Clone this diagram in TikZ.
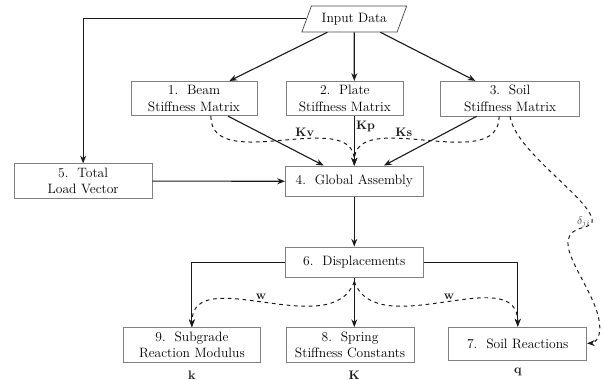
\documentclass[tikz,border=0pt]{standalone}
\usepackage{xcolor}
\usetikzlibrary{arrows.meta,positioning,shapes.geometric}
\definecolor{boxgray}{HTML}{808080}
\definecolor{linedark}{HTML}{1A1A1A}

\begin{document}
\begin{tikzpicture}[
  >={Stealth[length=2.2mm,width=1.7mm]},
  line width=0.9pt,
  stage/.style={rectangle, draw=boxgray, line width=0.6pt, minimum width=3.93cm, minimum height=0.88cm, align=center, font=\fontsize{11pt}{13.5pt}\selectfont},
  datain/.style={trapezium, trapezium left angle=68, trapezium right angle=112, trapezium stretches=true, draw=black!70, line width=0.6pt, minimum width=3.0cm, minimum height=0.74cm, font=\fontsize{11pt}{13.5pt}\selectfont},
  flow/.style={->, draw=linedark, line width=0.9pt},
  link/.style={->, dashed, draw=linedark, line width=0.8pt},
  lbl/.style={inner sep=1pt, text=linedark}
]
  \useasboundingbox (0,0) rectangle (17.19,-10.83);

  % top row
  \node[datain] (input) at (10.10,-0.54) {Input Data};
  \node[stage, minimum width=3.59cm] (beam) at (5.53,-2.81) {1.~~Beam\\Stiffness Matrix};
  \node[stage, minimum width=3.36cm] (plate) at (9.83,-2.81) {2.~~Plate\\Stiffness Matrix};
  \node[stage, minimum width=3.96cm] (soil) at (14.54,-2.81) {3.~~Soil\\Stiffness Matrix};

  % assembly
  \node[stage] (load) at (2.37,-5.16) {5.~~Total\\Load Vector};
  \node[stage] (glob) at (10.10,-5.17) {4.~~Global Assembly};
  \node[stage] (disp) at (10.10,-7.48) {6.~~Displacements};

  % results
  \node[stage] (subg) at (5.47,-9.83) {9.~~Subgrade\\Reaction Modulus};
  \node[stage, minimum width=3.65cm] (spring) at (9.98,-9.83) {8.~~Spring\\Stiffness Constants};
  \node[stage, minimum height=0.94cm] (reac) at (14.76,-9.79) {7.~~Soil Reactions};

  \node[lbl] (kk) at (5.47,-10.69) {$\mathbf{k}$};
  \node[lbl] (bigk) at (10.10,-10.69) {$\mathbf{K}$};
  \node[lbl] (qq) at (14.76,-10.60) {$\mathbf{q}$};

  % solid flow
  \draw[flow] (input) -- (beam);
  \draw[flow] (input) -- (input |- plate.north);
  \draw[flow] (input) -- (soil);
  \draw[flow] (input.west) -| (load.north);
  \draw[flow] (beam) -- (glob);
  \draw[flow] (glob |- plate.south) -- node[lbl, right, pos=0.2] {$\mathbf{Kp}$} (glob.north);
  \draw[flow] (soil) -- (glob);
  \draw[flow] (load) -- (glob);
  \draw[flow] (glob) -- (disp);
  \draw[flow] (disp.west) -| (subg.north);
  \draw[flow] (disp.south) -- (disp.south |- spring.north);
  \draw[flow] (disp.east) -| (reac.north);

  % dashed links
  \draw[link] ([xshift=0.48cm]beam.south) to[out=-90, in=90] (glob.north);
  \draw[link] ([xshift=-0.31cm]soil.south) to[out=-90, in=90] (glob.north);
  \node[lbl] (kv) at (8.69,-3.76) {$\mathbf{Kv}$};
  \node[lbl] (ks) at (11.51,-3.76) {$\mathbf{Ks}$};

  \coordinate (wsrc) at ([yshift=-0.1cm]disp.south);
  \draw[link] (wsrc) to[out=-110, in=90] (subg.north);
  \draw[link] (wsrc) to[out=-70, in=90] (reac.north);
  \node[lbl] (wl) at (7.44,-8.46) {$\mathbf{w}$};
  \node[lbl] (wr) at (12.80,-8.46) {$\mathbf{w}$};

  \coordinate (hook) at (16.87,-6.21);
  \draw[link] (soil.south) .. controls (14.68,-4.28) and (16.67,-5.56) .. (hook)
    .. controls (16.99,-6.61) and (16.25,-6.33) .. (16.19,-6.90)
    .. controls (16.16,-7.47) and (17.10,-8.55) .. (17.10,-9.35)
    .. controls (17.10,-9.63) and (16.96,-9.78) .. (reac.east);
  \node[lbl, text=black!70, font=\small] (delta) at (16.64,-6.33) {$\delta_{ji}$};
\end{tikzpicture}
\end{document}
